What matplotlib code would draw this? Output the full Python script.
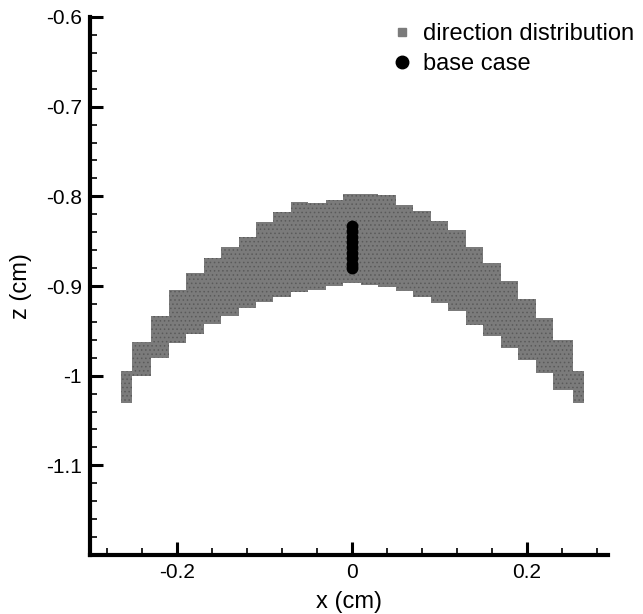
import matplotlib
matplotlib.use("Agg")
import matplotlib.pyplot as plt
from matplotlib.ticker import MultipleLocator, FormatStrFormatter
from matplotlib.lines import Line2D

plt.rcParams['font.family'] = ['Liberation Sans', 'DejaVu Sans']
plt.rcParams['axes.unicode_minus'] = False
plt.rcParams['hatch.linewidth'] = 0.6

# Envelope of the direction-distribution cloud, sampled column by column
x_cols = [-0.265, -0.24, -0.22, -0.20, -0.18, -0.16, -0.14, -0.12, -0.10,
          -0.08, -0.06, -0.04, -0.02, 0.0, 0.02, 0.04, 0.06, 0.08, 0.10,
          0.12, 0.14, 0.16, 0.18, 0.20, 0.22, 0.24, 0.265]
z_upper = [-0.995, -0.963, -0.933, -0.905, -0.885, -0.869, -0.856, -0.845,
           -0.829, -0.818, -0.806, -0.807, -0.804, -0.797, -0.797, -0.799,
           -0.810, -0.816, -0.827, -0.838, -0.856, -0.874, -0.894, -0.914,
           -0.936, -0.960, -0.995]
z_lower = [-1.030, -1.000, -0.980, -0.964, -0.953, -0.942, -0.933, -0.925,
           -0.918, -0.912, -0.907, -0.904, -0.900, -0.897, -0.899, -0.901,
           -0.906, -0.912, -0.919, -0.928, -0.943, -0.956, -0.969, -0.983,
           -0.997, -1.016, -1.030]

# Base case trajectory points
base_x = [0.0, 0.0, 0.0, 0.0, 0.0, 0.0, 0.0, 0.0, 0.0]
base_z = [-0.833, -0.839, -0.845, -0.851, -0.857, -0.863, -0.869, -0.875, -0.880]

x_ticks = [-0.2, 0.0, 0.2]
z_ticks = [-1.1, -1.0, -0.9, -0.8, -0.7, -0.6]

fig = plt.figure(figsize=(6.43, 6.14), dpi=100)
ax = fig.add_axes([90 / 643, 1 - 555 / 614, 517.7 / 643, 538 / 614])

band_face = '#7b7b7b'
ax.fill_between(x_cols, z_lower, z_upper, step='mid', facecolor=band_face,
                edgecolor='#5a5a5a', hatch='....', linewidth=0, zorder=2)
ax.plot(base_x, base_z, linestyle='none', marker='o', markersize=7.5,
        color='black', zorder=3)

ax.set_xlim(-0.3, 0.2925)
ax.set_ylim(-1.2, -0.6)
ax.set_xticks(x_ticks)
ax.set_yticks(z_ticks)
ax.xaxis.set_minor_locator(MultipleLocator(0.04))
ax.yaxis.set_minor_locator(MultipleLocator(0.02))
ax.xaxis.set_major_formatter(FormatStrFormatter('%g'))
ax.yaxis.set_major_formatter(FormatStrFormatter('%g'))

for side in ('top', 'right'):
    ax.spines[side].set_visible(False)
for side in ('left', 'bottom'):
    ax.spines[side].set_linewidth(3)

ax.tick_params(which='major', direction='in', length=9.5, width=2.2,
               labelsize=15, pad=6)
ax.tick_params(which='minor', direction='in', length=5, width=1.2)

ax.set_xlabel('x (cm)', fontsize=17)
ax.set_ylabel('z (cm)', fontsize=17)
ax.xaxis.set_label_coords(0.5, -0.066)
ax.yaxis.set_label_coords(-0.112, 0.5)

handles = [
    Line2D([], [], linestyle='none', marker='s', markersize=6,
           markerfacecolor=band_face, markeredgecolor=band_face),
    Line2D([], [], linestyle='none', marker='o', markersize=9,
           color='black'),
]
fig.legend(handles, ['direction distribution', 'base case'],
           loc='upper left', bbox_to_anchor=(390 / 643, 1 - 23 / 614),
           frameon=False, fontsize=17, handlelength=1.0, handletextpad=0.4,
           labelspacing=0.33, borderpad=0, borderaxespad=0)

fig.savefig('out.png', dpi=100)
